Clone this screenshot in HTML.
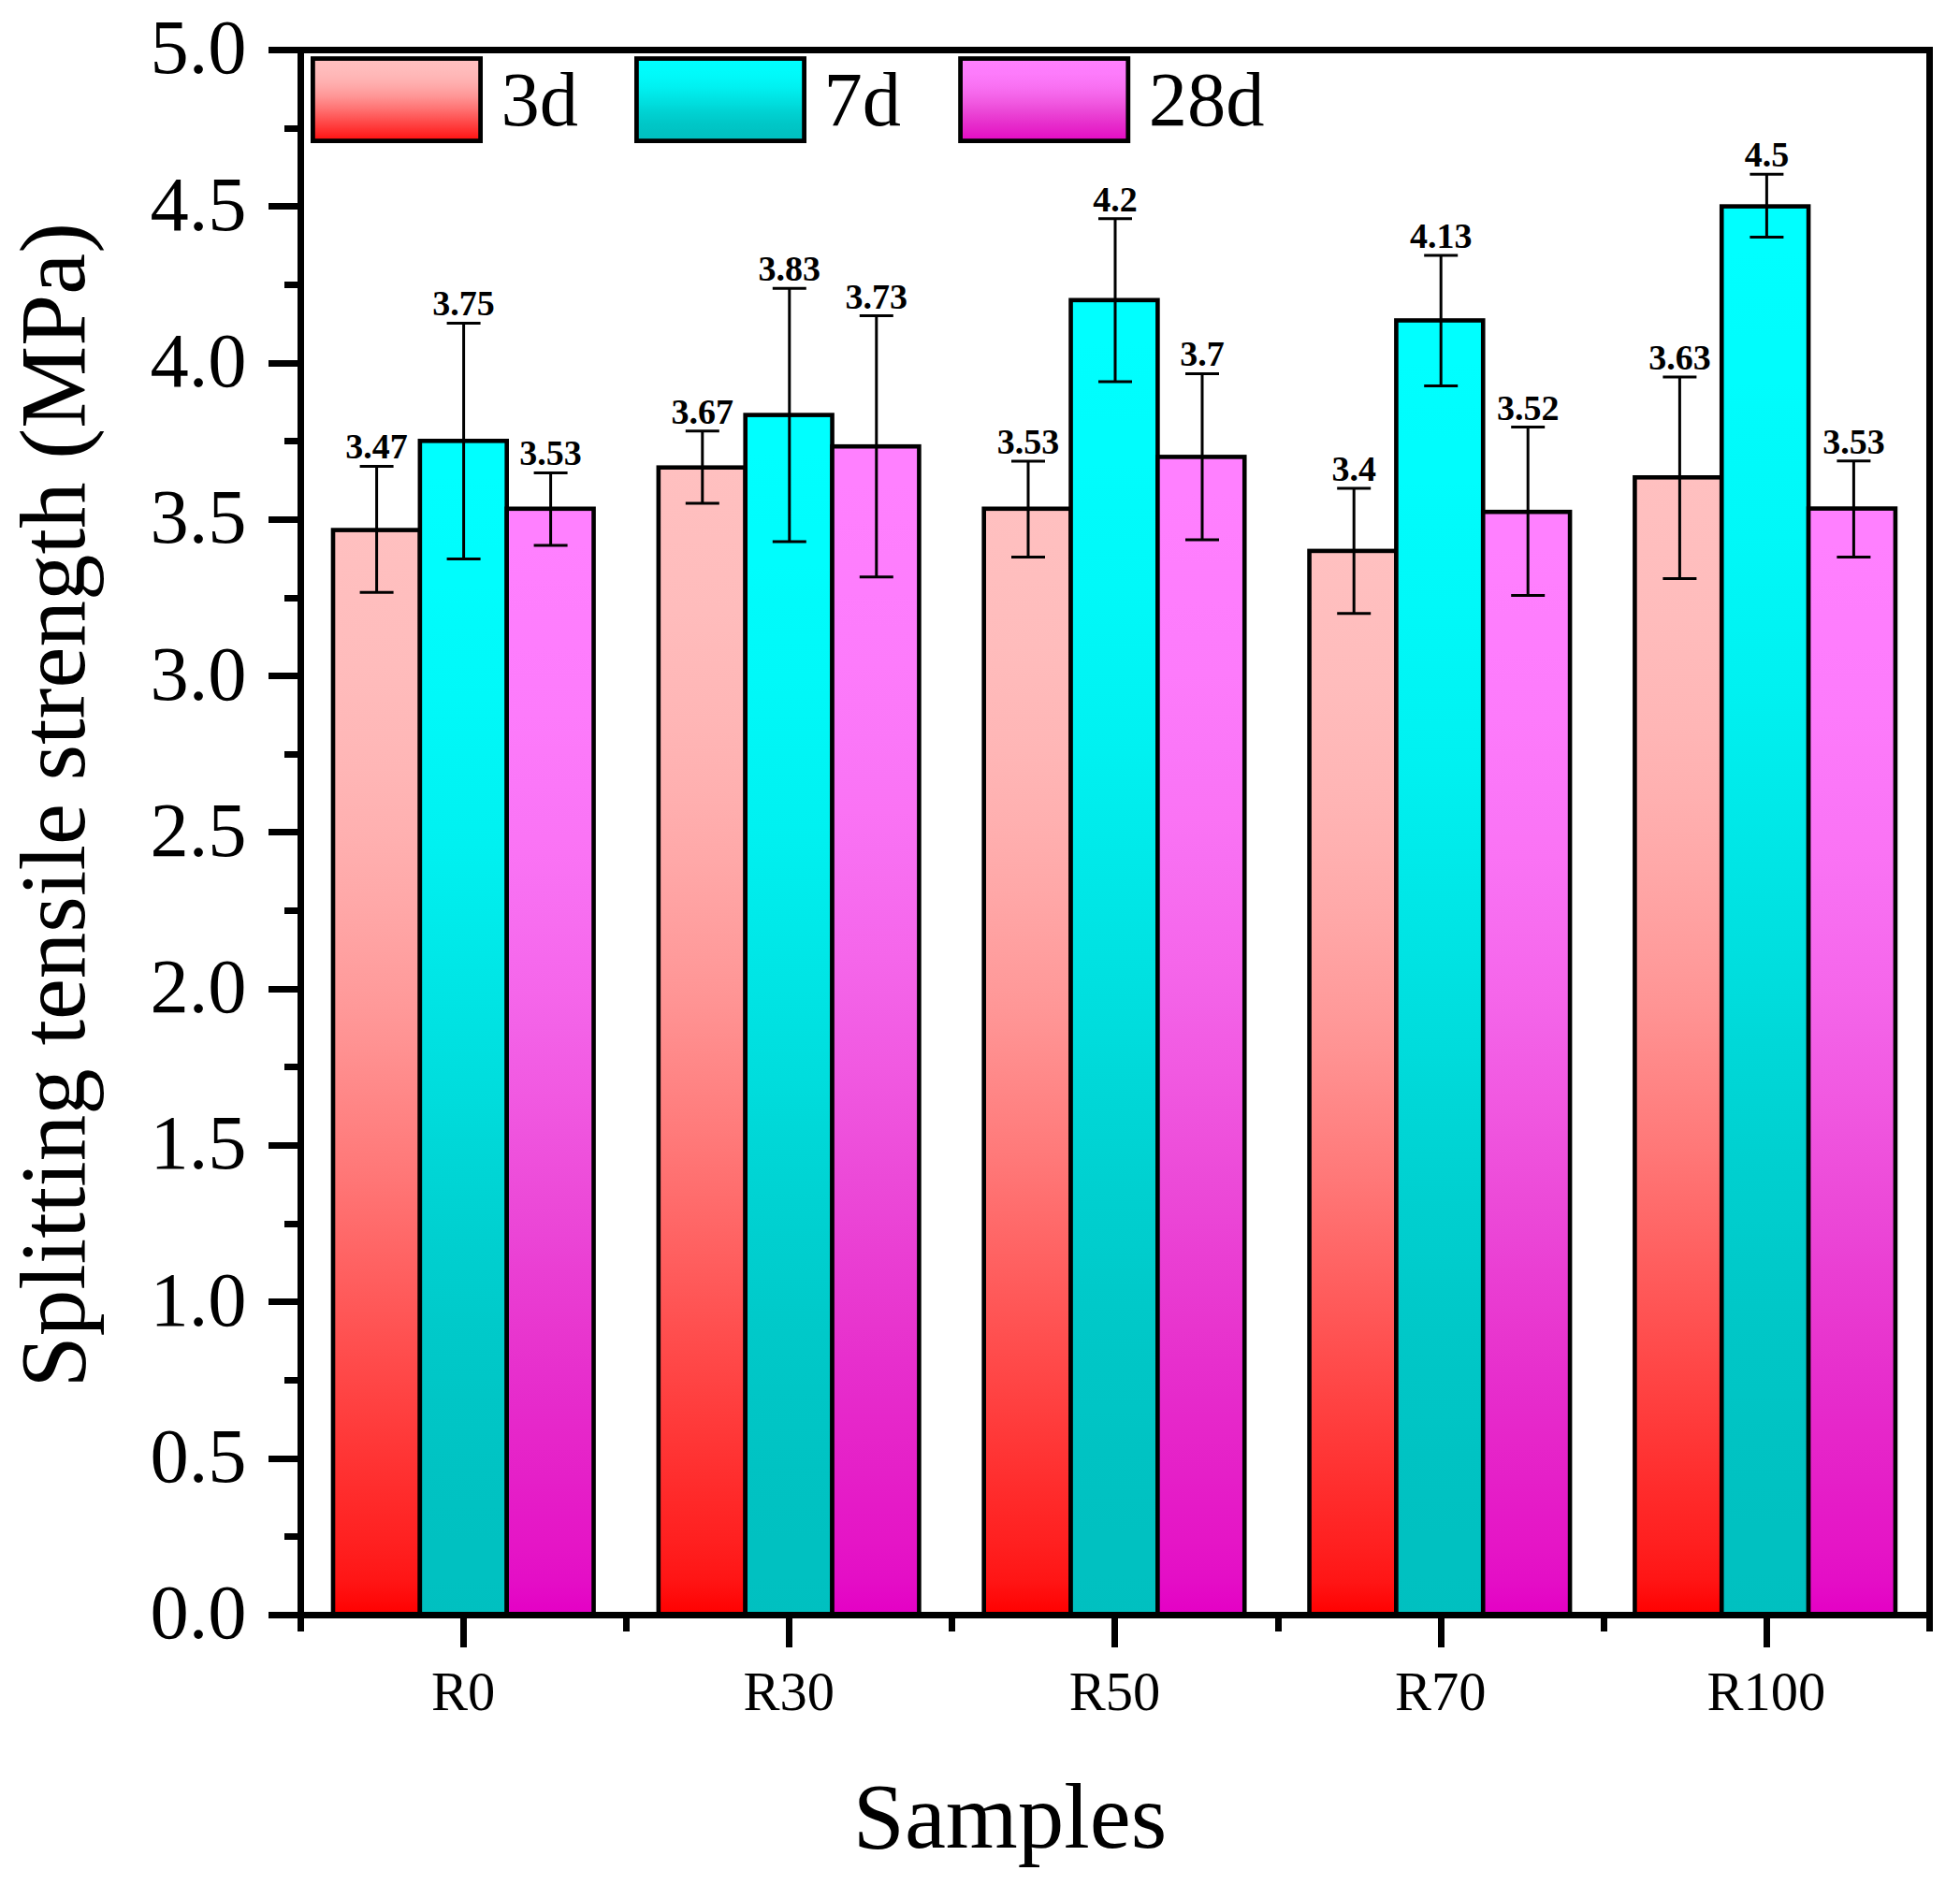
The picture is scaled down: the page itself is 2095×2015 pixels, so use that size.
<!DOCTYPE html>
<html lang="en"><head><meta charset="utf-8"><title>Splitting tensile strength</title><style>html,body{margin:0;padding:0;background:#fff}svg{display:block}</style></head><body>
<svg width="2095" height="2015" viewBox="0 0 2095 2015">
<defs><linearGradient id="g0" x1="0" y1="0" x2="0" y2="1"><stop offset="0.0000" stop-color="rgb(255,192,192)"/><stop offset="0.0312" stop-color="rgb(255,191,191)"/><stop offset="0.0625" stop-color="rgb(255,190,190)"/><stop offset="0.0938" stop-color="rgb(255,189,189)"/><stop offset="0.1250" stop-color="rgb(255,188,188)"/><stop offset="0.1562" stop-color="rgb(255,186,186)"/><stop offset="0.1875" stop-color="rgb(255,184,184)"/><stop offset="0.2188" stop-color="rgb(255,182,182)"/><stop offset="0.2500" stop-color="rgb(255,179,179)"/><stop offset="0.2812" stop-color="rgb(255,176,176)"/><stop offset="0.3125" stop-color="rgb(255,172,172)"/><stop offset="0.3438" stop-color="rgb(255,168,168)"/><stop offset="0.3750" stop-color="rgb(255,163,163)"/><stop offset="0.4062" stop-color="rgb(255,158,158)"/><stop offset="0.4375" stop-color="rgb(255,153,153)"/><stop offset="0.4688" stop-color="rgb(255,147,147)"/><stop offset="0.5000" stop-color="rgb(255,140,140)"/><stop offset="0.5312" stop-color="rgb(255,133,133)"/><stop offset="0.5625" stop-color="rgb(255,126,126)"/><stop offset="0.5938" stop-color="rgb(255,119,119)"/><stop offset="0.6250" stop-color="rgb(255,111,111)"/><stop offset="0.6562" stop-color="rgb(255,103,103)"/><stop offset="0.6875" stop-color="rgb(255,95,95)"/><stop offset="0.7188" stop-color="rgb(255,87,87)"/><stop offset="0.7500" stop-color="rgb(255,79,79)"/><stop offset="0.7812" stop-color="rgb(255,71,71)"/><stop offset="0.8125" stop-color="rgb(255,63,63)"/><stop offset="0.8438" stop-color="rgb(255,55,55)"/><stop offset="0.8750" stop-color="rgb(255,47,47)"/><stop offset="0.9062" stop-color="rgb(255,39,39)"/><stop offset="0.9375" stop-color="rgb(255,31,31)"/><stop offset="0.9688" stop-color="rgb(255,21,21)"/><stop offset="1.0000" stop-color="rgb(255,0,0)"/></linearGradient><linearGradient id="g1" x1="0" y1="0" x2="0" y2="1"><stop offset="0.0000" stop-color="rgb(0,255,255)"/><stop offset="0.0312" stop-color="rgb(0,255,255)"/><stop offset="0.0625" stop-color="rgb(0,254,254)"/><stop offset="0.0938" stop-color="rgb(0,253,253)"/><stop offset="0.1250" stop-color="rgb(0,253,253)"/><stop offset="0.1562" stop-color="rgb(0,251,251)"/><stop offset="0.1875" stop-color="rgb(0,250,250)"/><stop offset="0.2188" stop-color="rgb(0,249,249)"/><stop offset="0.2500" stop-color="rgb(0,247,247)"/><stop offset="0.2812" stop-color="rgb(0,245,245)"/><stop offset="0.3125" stop-color="rgb(0,243,243)"/><stop offset="0.3438" stop-color="rgb(0,241,241)"/><stop offset="0.3750" stop-color="rgb(0,238,238)"/><stop offset="0.4062" stop-color="rgb(0,235,235)"/><stop offset="0.4375" stop-color="rgb(0,232,232)"/><stop offset="0.4688" stop-color="rgb(0,229,229)"/><stop offset="0.5000" stop-color="rgb(0,226,226)"/><stop offset="0.5312" stop-color="rgb(0,223,223)"/><stop offset="0.5625" stop-color="rgb(0,220,220)"/><stop offset="0.5938" stop-color="rgb(0,216,216)"/><stop offset="0.6250" stop-color="rgb(0,213,213)"/><stop offset="0.6562" stop-color="rgb(0,210,210)"/><stop offset="0.6875" stop-color="rgb(0,207,207)"/><stop offset="0.7188" stop-color="rgb(0,205,205)"/><stop offset="0.7500" stop-color="rgb(0,202,202)"/><stop offset="0.7812" stop-color="rgb(0,200,200)"/><stop offset="0.8125" stop-color="rgb(0,198,198)"/><stop offset="0.8438" stop-color="rgb(0,197,197)"/><stop offset="0.8750" stop-color="rgb(0,195,195)"/><stop offset="0.9062" stop-color="rgb(0,194,194)"/><stop offset="0.9375" stop-color="rgb(0,193,193)"/><stop offset="0.9688" stop-color="rgb(0,193,193)"/><stop offset="1.0000" stop-color="rgb(0,192,192)"/></linearGradient><linearGradient id="g2" x1="0" y1="0" x2="0" y2="1"><stop offset="0.0000" stop-color="rgb(255,128,255)"/><stop offset="0.0312" stop-color="rgb(255,128,255)"/><stop offset="0.0625" stop-color="rgb(255,127,254)"/><stop offset="0.0938" stop-color="rgb(254,126,253)"/><stop offset="0.1250" stop-color="rgb(254,125,253)"/><stop offset="0.1562" stop-color="rgb(253,124,252)"/><stop offset="0.1875" stop-color="rgb(253,123,251)"/><stop offset="0.2188" stop-color="rgb(252,121,249)"/><stop offset="0.2500" stop-color="rgb(251,119,248)"/><stop offset="0.2812" stop-color="rgb(250,117,246)"/><stop offset="0.3125" stop-color="rgb(250,115,244)"/><stop offset="0.3438" stop-color="rgb(248,112,242)"/><stop offset="0.3750" stop-color="rgb(247,109,239)"/><stop offset="0.4062" stop-color="rgb(246,105,237)"/><stop offset="0.4375" stop-color="rgb(245,102,234)"/><stop offset="0.4688" stop-color="rgb(243,98,231)"/><stop offset="0.5000" stop-color="rgb(242,93,228)"/><stop offset="0.5312" stop-color="rgb(241,89,225)"/><stop offset="0.5625" stop-color="rgb(239,84,222)"/><stop offset="0.5938" stop-color="rgb(238,79,219)"/><stop offset="0.6250" stop-color="rgb(236,74,216)"/><stop offset="0.6562" stop-color="rgb(235,69,214)"/><stop offset="0.6875" stop-color="rgb(234,63,211)"/><stop offset="0.7188" stop-color="rgb(233,58,209)"/><stop offset="0.7500" stop-color="rgb(232,53,206)"/><stop offset="0.7812" stop-color="rgb(231,47,205)"/><stop offset="0.8125" stop-color="rgb(230,42,203)"/><stop offset="0.8438" stop-color="rgb(230,37,201)"/><stop offset="0.8750" stop-color="rgb(229,32,200)"/><stop offset="0.9062" stop-color="rgb(229,26,199)"/><stop offset="0.9375" stop-color="rgb(229,21,198)"/><stop offset="0.9688" stop-color="rgb(228,14,198)"/><stop offset="1.0000" stop-color="rgb(228,0,197)"/></linearGradient></defs>
<rect x="0" y="0" width="2095" height="2015" fill="#fff"/>
<g stroke="#000" stroke-width="4.60" stroke-linejoin="miter">
<rect x="356.00" y="566.60" width="92.85" height="1159.90" fill="url(#g0)"/>
<rect x="448.85" y="471.30" width="92.85" height="1255.20" fill="url(#g1)"/>
<rect x="541.70" y="543.80" width="92.85" height="1182.70" fill="url(#g2)"/>
<rect x="703.85" y="499.70" width="92.85" height="1226.80" fill="url(#g0)"/>
<rect x="796.70" y="443.60" width="92.85" height="1282.90" fill="url(#g1)"/>
<rect x="889.55" y="477.20" width="92.85" height="1249.30" fill="url(#g2)"/>
<rect x="1051.70" y="543.80" width="92.85" height="1182.70" fill="url(#g0)"/>
<rect x="1144.55" y="320.80" width="92.85" height="1405.70" fill="url(#g1)"/>
<rect x="1237.40" y="488.40" width="92.85" height="1238.10" fill="url(#g2)"/>
<rect x="1399.55" y="588.90" width="92.85" height="1137.60" fill="url(#g0)"/>
<rect x="1492.40" y="342.50" width="92.85" height="1384.00" fill="url(#g1)"/>
<rect x="1585.25" y="547.20" width="92.85" height="1179.30" fill="url(#g2)"/>
<rect x="1747.40" y="510.30" width="92.85" height="1216.20" fill="url(#g0)"/>
<rect x="1840.25" y="220.60" width="92.85" height="1505.90" fill="url(#g1)"/>
<rect x="1933.10" y="543.60" width="92.85" height="1182.90" fill="url(#g2)"/>
</g>
<g stroke="#000" stroke-width="3.00" fill="none">
<path d="M402.60 498.40V633.30M384.60 498.40H420.60M384.60 633.30H420.60"/>
<path d="M495.60 345.40V597.50M477.60 345.40H513.60M477.60 597.50H513.60"/>
<path d="M588.60 505.40V583.00M570.60 505.40H606.60M570.60 583.00H606.60"/>
<path d="M750.80 460.70V538.10M732.80 460.70H768.80M732.80 538.10H768.80"/>
<path d="M843.80 308.30V579.10M825.80 308.30H861.80M825.80 579.10H861.80"/>
<path d="M936.80 337.60V616.70M918.80 337.60H954.80M918.80 616.70H954.80"/>
<path d="M1099.00 493.00V595.40M1081.00 493.00H1117.00M1081.00 595.40H1117.00"/>
<path d="M1192.00 233.80V408.10M1174.00 233.80H1210.00M1174.00 408.10H1210.00"/>
<path d="M1285.00 399.40V577.10M1267.00 399.40H1303.00M1267.00 577.10H1303.00"/>
<path d="M1447.20 522.00V655.70M1429.20 522.00H1465.20M1429.20 655.70H1465.20"/>
<path d="M1540.20 272.90V412.50M1522.20 272.90H1558.20M1522.20 412.50H1558.20"/>
<path d="M1633.20 456.50V636.60M1615.20 456.50H1651.20M1615.20 636.60H1651.20"/>
<path d="M1795.40 403.00V618.50M1777.40 403.00H1813.40M1777.40 618.50H1813.40"/>
<path d="M1888.40 186.30V253.40M1870.40 186.30H1906.40M1870.40 253.40H1906.40"/>
<path d="M1981.40 492.70V595.60M1963.40 492.70H1999.40M1963.40 595.60H1999.40"/>
</g>
<g font-family="'Liberation Serif', serif" font-weight="700" font-size="38.0" text-anchor="middle" fill="#000">
<text x="402.60" y="490.40">3.47</text>
<text x="495.60" y="337.40">3.75</text>
<text x="588.60" y="497.40">3.53</text>
<text x="750.80" y="452.70">3.67</text>
<text x="843.80" y="300.30">3.83</text>
<text x="936.80" y="329.60">3.73</text>
<text x="1099.00" y="485.00">3.53</text>
<text x="1192.00" y="225.80">4.2</text>
<text x="1285.00" y="391.40">3.7</text>
<text x="1447.20" y="514.00">3.4</text>
<text x="1540.20" y="264.90">4.13</text>
<text x="1633.20" y="448.50">3.52</text>
<text x="1795.40" y="395.00">3.63</text>
<text x="1888.40" y="178.30">4.5</text>
<text x="1981.40" y="484.70">3.53</text>
</g>
<g stroke="#000" stroke-width="7.00" fill="none" stroke-linecap="butt">
<path d="M287.00 53.50H2066.00"/>
<path d="M287.00 1726.50H2066.00"/>
<path d="M321.50 50.00V1744.00"/>
<path d="M2062.50 50.00V1744.00"/>
<path d="M304.00 1642.50H321.50"/>
<path d="M287.00 1559.50H321.50"/>
<path d="M304.00 1475.50H321.50"/>
<path d="M287.00 1391.50H321.50"/>
<path d="M304.00 1308.50H321.50"/>
<path d="M287.00 1224.50H321.50"/>
<path d="M304.00 1140.50H321.50"/>
<path d="M287.00 1057.50H321.50"/>
<path d="M304.00 973.50H321.50"/>
<path d="M287.00 889.50H321.50"/>
<path d="M304.00 806.50H321.50"/>
<path d="M287.00 722.50H321.50"/>
<path d="M304.00 639.50H321.50"/>
<path d="M287.00 555.50H321.50"/>
<path d="M304.00 471.50H321.50"/>
<path d="M287.00 388.50H321.50"/>
<path d="M304.00 304.50H321.50"/>
<path d="M287.00 220.50H321.50"/>
<path d="M304.00 137.50H321.50"/>
<path d="M495.50 1726.50V1761.00"/>
<path d="M669.50 1726.50V1744.00"/>
<path d="M843.50 1726.50V1761.00"/>
<path d="M1017.50 1726.50V1744.00"/>
<path d="M1191.50 1726.50V1761.00"/>
<path d="M1366.50 1726.50V1744.00"/>
<path d="M1540.50 1726.50V1761.00"/>
<path d="M1714.50 1726.50V1744.00"/>
<path d="M1888.50 1726.50V1761.00"/>
</g>
<g font-family="'Liberation Serif', serif" font-size="82.5" text-anchor="end" fill="#000">
<text x="263.6" y="1751.30">0.0</text>
<text x="263.6" y="1584.00">0.5</text>
<text x="263.6" y="1416.70">1.0</text>
<text x="263.6" y="1249.40">1.5</text>
<text x="263.6" y="1082.10">2.0</text>
<text x="263.6" y="914.80">2.5</text>
<text x="263.6" y="747.50">3.0</text>
<text x="263.6" y="580.20">3.5</text>
<text x="263.6" y="412.90">4.0</text>
<text x="263.6" y="245.60">4.5</text>
<text x="263.6" y="78.30">5.0</text>
</g>
<g font-family="'Liberation Serif', serif" font-size="58.5" text-anchor="middle" fill="#000">
<text x="495.10" y="1827.8">R0</text>
<text x="843.30" y="1827.8">R30</text>
<text x="1191.50" y="1827.8">R50</text>
<text x="1539.70" y="1827.8">R70</text>
<text x="1887.90" y="1827.8">R100</text>
</g>
<text x="1079.6" y="1975.4" font-family="'Liberation Serif', serif" font-size="99.0" text-anchor="middle" fill="#000">Samples</text>
<text transform="translate(90.2 860.6) rotate(-90)" font-family="'Liberation Serif', serif" font-size="99.0" text-anchor="middle" fill="#000">Splitting tensile strength (MPa)</text>
<rect x="334.40" y="62.60" width="179.20" height="88.00" fill="url(#g0)" stroke="#000" stroke-width="4.8"/>
<text x="535.60" y="133.8" font-family="'Liberation Serif', serif" font-size="82.5" fill="#000">3d</text>
<rect x="680.40" y="62.60" width="179.20" height="88.00" fill="url(#g1)" stroke="#000" stroke-width="4.8"/>
<text x="880.40" y="133.8" font-family="'Liberation Serif', serif" font-size="82.5" fill="#000">7d</text>
<rect x="1026.60" y="62.60" width="179.20" height="88.00" fill="url(#g2)" stroke="#000" stroke-width="4.8"/>
<text x="1227.70" y="133.8" font-family="'Liberation Serif', serif" font-size="82.5" fill="#000">28d</text>
</svg>
</body></html>
